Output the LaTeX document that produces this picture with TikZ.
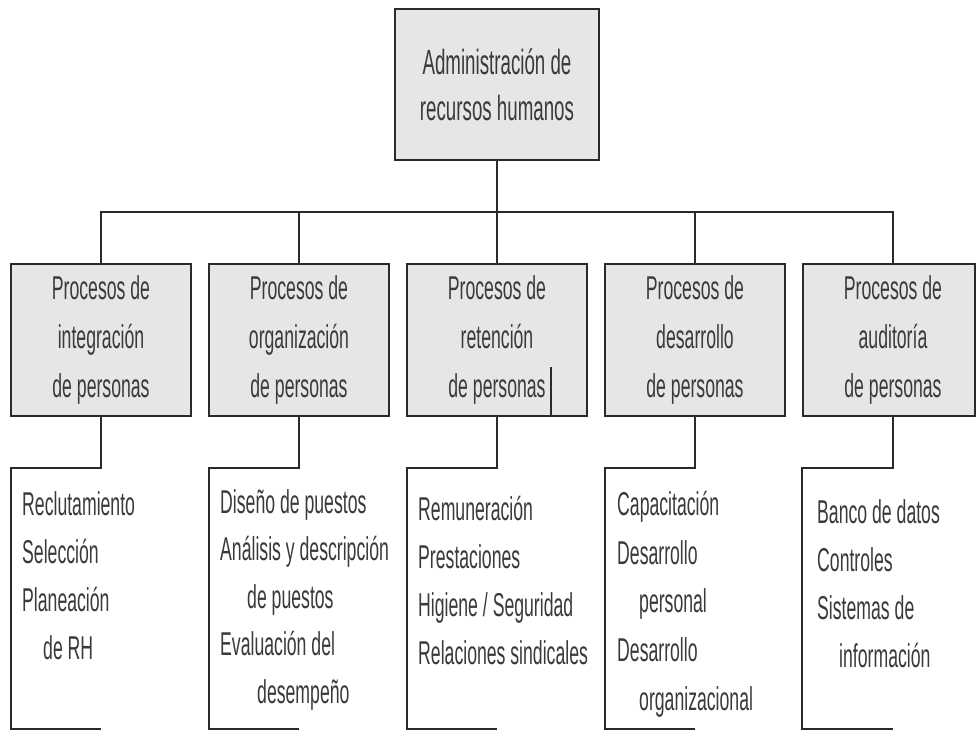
\documentclass[tikz,border=0pt]{standalone}
\usepackage{fontspec}
\setmainfont{Liberation Sans}[FakeStretch=0.535]
\definecolor{boxfill}{HTML}{E6E6E8}
\definecolor{linecol}{HTML}{2A2A2A}
\definecolor{textcol}{HTML}{3A3A3A}
\tikzset{
  procbox/.style={draw=linecol, line width=1.8pt, fill=boxfill, minimum width=180pt, minimum height=152pt, inner sep=0pt, align=center, text=textcol, font=\fontsize{33}{49}\selectfont},
  topbox/.style={draw=linecol, line width=1.8pt, fill=boxfill, minimum width=204pt, minimum height=151pt, inner sep=0pt, align=center, text=textcol, font=\fontsize{35}{46}\selectfont},
  listtext/.style={anchor=north west, inner sep=0pt, align=left, text=textcol},
  conn/.style={draw=linecol, line width=1.6pt}
}
\begin{document}
\begin{tikzpicture}[x=1pt,y=-1pt]
\useasboundingbox[fill=white] (0,0) rectangle (977,735);

\node[topbox] (top) at (497,84.5) {Administración de\\recursos humanos};

\node[procbox] (b1) at (101,340) {Procesos de\\integración\\de personas};
\node[procbox] (b2) at (299,340) {Procesos de\\organización\\de personas};
\node[procbox] (b3) at (497,340) {Procesos de\\retención\\de personas};
\node[procbox, minimum width=172pt] (b5) at (889,340) {\hspace*{8pt}Procesos de\\\hspace*{8pt}auditoría\\\hspace*{8pt}de personas};
\node[procbox] (b4) at (695,340) {Procesos de\\desarrollo\\de personas};

% cursor mark in box 3
\coordinate (cur1) at (551,367);
\coordinate (cur2) at (551,416);
\draw[conn, line width=1.2pt] (cur1) -- (cur2);

% top connectors
\coordinate (hub) at (497,212);
\coordinate (h1) at (b1.north |- hub);
\coordinate (h2) at (b2.north |- hub);
\coordinate (h4) at (b4.north |- hub);
\coordinate (h5) at ([xshift=4pt]b5.north |- hub);
\coordinate (b5n) at ([xshift=4pt]b5.north);
\draw[conn] (top.south) -- (hub);
\draw[conn] (b1.north) -- (h1) -- (h5) -- (b5n);
\draw[conn] (b2.north) -- (h2);
\draw[conn] (b3.north) -- (hub);
\draw[conn] (b4.north) -- (h4);

% lower brackets
\foreach \i/\cx/\lx in {1/101/11, 2/299/209, 3/497/407, 4/695/605, 5/893/802}{
  \coordinate (s\i) at (\cx,416);
  \coordinate (m\i) at (\cx,468);
  \coordinate (n\i) at (\lx,468);
  \coordinate (p\i) at (\lx,729);
  \coordinate (q\i) at (\cx,729);
  \draw[conn] (s\i) -- (m\i) -- (n\i) -- (p\i) -- (q\i);
}

% list texts
\node[listtext, font=\fontsize{33}{48}\selectfont] (l1) at (22,491)
  {Reclutamiento\\Selección\\Planeación\\\hspace*{21pt}de RH};
\node[listtext, font=\fontsize{33}{47.5}\selectfont] (l2) at (220,489)
  {Diseño de puestos\\Análisis y descripción\\\hspace*{27pt}de puestos\\Evaluación del\\\hspace*{37pt}desempeño};
\node[listtext, font=\fontsize{33}{48}\selectfont] (l3) at (418,496)
  {Remuneración\\Prestaciones\\Higiene / Seguridad\\Relaciones sindicales};
\node[listtext, font=\fontsize{33}{48.7}\selectfont] (l4) at (617,491)
  {Capacitación\\Desarrollo\\\hspace*{22pt}personal\\Desarrollo\\\hspace*{22pt}organizacional};
\node[listtext, font=\fontsize{33}{48}\selectfont] (l5) at (817,499)
  {Banco de datos\\Controles\\Sistemas de\\\hspace*{22pt}información};
\end{tikzpicture}
\end{document}
